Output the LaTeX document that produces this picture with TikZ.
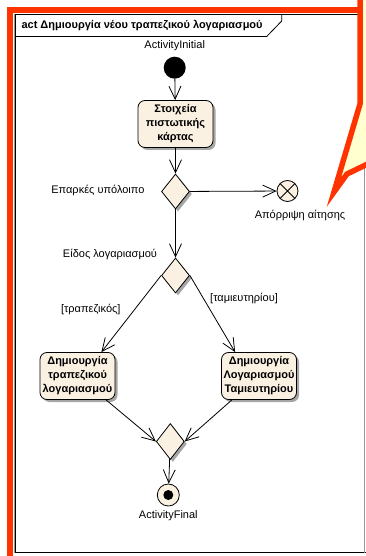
\documentclass[tikz,border=0pt]{standalone}
\usepackage{fontspec}
\setmainfont{Liberation Sans}
\usetikzlibrary{arrows.meta,positioning,shapes.geometric,shadows}
\definecolor{umlfill}{RGB}{251,241,227}
\definecolor{notefill}{RGB}{255,255,208}
\definecolor{markred}{RGB}{255,51,0}

\begin{document}
\begin{tikzpicture}[
    x=1pt, y=-1pt,
    font=\fontsize{11}{14}\selectfont,
    >={Straight Barb[length=13pt,width=12pt]},
    umlshadow/.style={drop shadow={shadow xshift=2.5pt, shadow yshift=-2.5pt,
                fill=black!35, opacity=1}},
    action/.style={draw, rounded corners=7pt, fill=umlfill, align=center,
                font=\fontsize{11}{14}\selectfont\bfseries, minimum width=75pt,
                minimum height=47pt, inner sep=1pt, line width=0.8pt, umlshadow},
    choice/.style={diamond, draw, fill=umlfill, minimum width=28pt,
                minimum height=35pt, inner sep=0pt, line width=0.8pt, umlshadow},
    startdot/.style={circle, fill=black, minimum size=22pt, inner sep=0pt},
    enddot/.style={circle, draw, fill=umlfill, minimum size=22pt, inner sep=0pt,
                line width=0.8pt, path picture={\fill[black] (path picture bounding box.center)
                circle (5pt);}},
    endflow/.style={circle, draw, fill=umlfill, minimum size=21pt, inner sep=0pt,
                line width=0.8pt, path picture={\draw[black, line width=0.8pt]
                (path picture bounding box.north west) -- (path picture bounding box.south east)
                (path picture bounding box.south west) -- (path picture bounding box.north east);}},
    flow/.style={->, line width=0.8pt},
    redmark/.style={markred, line width=5.5pt}
]
\useasboundingbox (0,0) rectangle (366,556);
% frame
\draw[line width=0.8pt] (364.5,14.7) -- (15.7,14.7) -- (15.7,552.5) -- (366,552.5);
\draw[black!40, line width=0.8pt] (364.8,14.7) -- (364.8,552.5);
\draw[black!40, line width=1pt] (14,14) -- (14,553);
\draw[line width=0.8pt] (15.7,36.5) -- (266.7,36.5) -- (281.7,21) -- (281.7,14.7);
\node[anchor=west, font=\fontsize{11}{14}\selectfont\bfseries] (title) at (18,25.5)
    {act Δημιουργία νέου τραπεζικού λογαριασμού};

\node[startdot] (init) at (174.7,67.7) {};
\node[above=2pt of init] (initlbl) {ActivityInitial};
\node[action] (card) at (175.5,124) {Στοιχεία\\πιστωτικής\\κάρτας};
\node[choice] (enough) at (175.5,191.5) {};
\node[anchor=east] (enoughlbl) at (148,190) {Επαρκές υπόλοιπο};
\node[endflow] (reject) at (287.5,191) {};
\node (rejectlbl) at (300,215) {Απόρριψη αίτησης};
\node[choice] (kind) at (175.5,275.5) {};
\node (kindlbl) at (110,254) {Είδος λογαριασμού};
\node[action] (bank) at (77.5,376) {Δημιουργία\\τραπεζικού\\λογαριασμού};
\node[action] (savings) at (259,376) {Δημιουργία\\Λογαριασμού\\Ταμιευτηρίου};
\node[choice, minimum height=36pt] (merge) at (170.3,441.5) {};
\node[enddot] (final) at (168.3,495) {};
\node[below=1pt of final] (finallbl) {ActivityFinal};

\draw[flow] (init) -- (card);
\draw[flow] (card) -- (enough);
\draw[flow] (enough) -- (reject);
\draw[flow] (enough) -- (kind);
\draw[flow] (kind.west) -- node[pos=0.45, left=10pt] (banklbl) {[τραπεζικός]} (bank.45);
\draw[flow] (kind.east) -- node[pos=0.3, right=3pt] (savingslbl) {[ταμιευτηρίου]} (savings.135);
\draw[flow] (bank) -- (merge.west);
\draw[flow] (savings) -- (merge.east);
\draw[flow] (merge) -- (final);

% red highlight and callout
\begin{scope}
\clip (0,0) rectangle (366,556);
\draw[redmark, fill=notefill] (360,-20) -- (360,104) -- (334,192) -- (347,174)
    -- (380,158) -- (380,-20) -- cycle;
\draw[redmark] (9.8,570) -- (9.8,9.8) -- (360,9.8);
\end{scope}
\end{tikzpicture}
\end{document}
